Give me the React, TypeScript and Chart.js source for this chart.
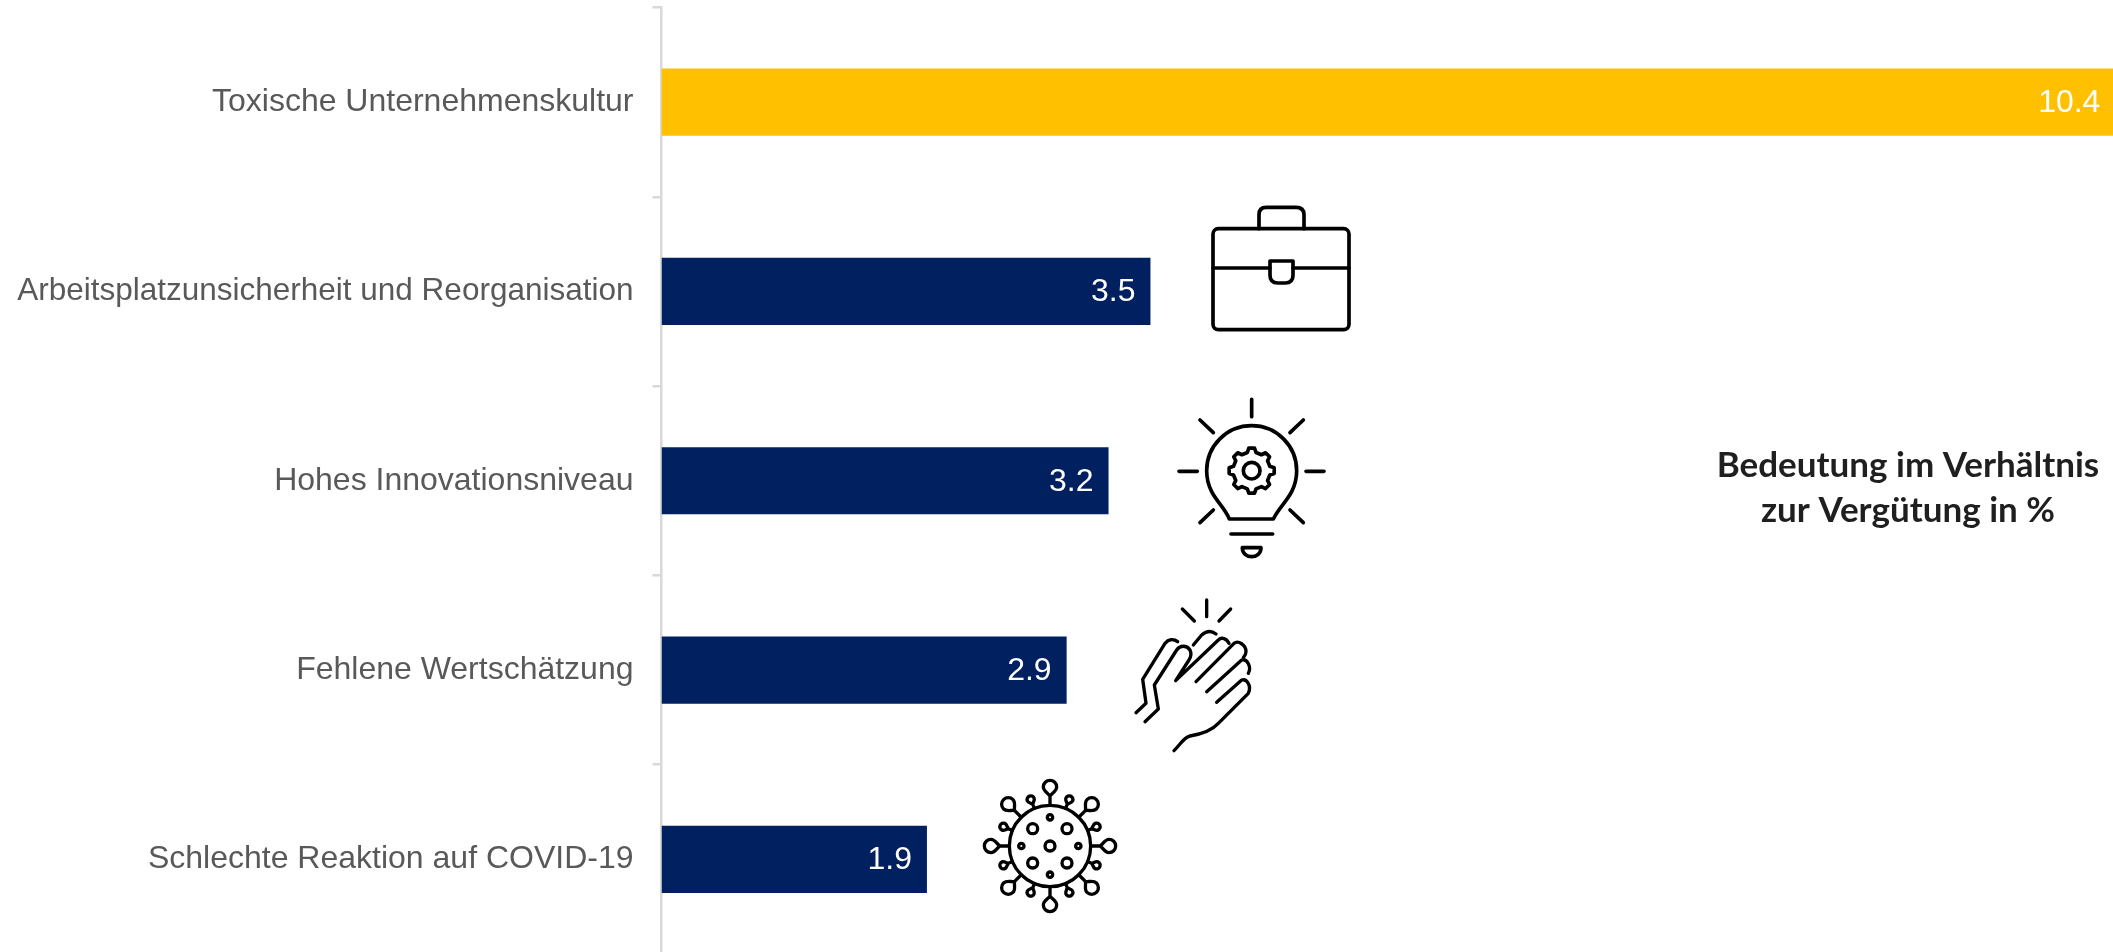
import React, { useEffect, useRef } from "react";
import { Chart, registerables } from "chart.js";

Chart.register(...registerables);

const categories = [
  "Toxische Unternehmenskultur",
  "Arbeitsplatzunsicherheit und Reorganisation",
  "Hohes Innovationsniveau",
  "Fehlene Wertschätzung",
  "Schlechte Reaktion auf COVID-19",
];
const values = [10.4, 3.5, 3.2, 2.9, 1.9];
const barColors = ["#FFC000", "#002060", "#002060", "#002060", "#002060"];
const noteLines = ["Bedeutung im Verhältnis", "zur Vergütung in %"];

const valueLabels = {
  id: "valueLabels",
  afterDatasetsDraw(chart: any) {
    const { ctx } = chart;
    const meta = chart.getDatasetMeta(0);
    ctx.save();
    ctx.font = '32px "Liberation Sans"';
    ctx.fillStyle = "#FFFFFF";
    ctx.textAlign = "right";
    ctx.textBaseline = "middle";
    meta.data.forEach((bar: any, i: number) => {
      const x = bar.x - (i === 0 ? 14 : 15);
      ctx.fillText(values[i].toFixed(1), x, bar.y + 1);
    });
    ctx.restore();
  },
};

const note = {
  id: "note",
  afterDraw(chart: any) {
    const { ctx } = chart;
    ctx.save();
    ctx.font = "bold 35px Lato";
    ctx.fillStyle = "#1F1F1F";
    ctx.textAlign = "center";
    ctx.textBaseline = "alphabetic";
    noteLines.forEach((t, i) => ctx.fillText(t, 1908, 477 + i * 45));
    ctx.restore();
  },
};

function Icon({ x, y, w, h, sw, children }: any) {
  return (
    <svg
      style={{ position: "absolute", left: x, top: y, width: w / 3, height: h / 3, pointerEvents: "none" }}
      viewBox={`0 0 ${w} ${h}`}
      fill="none"
      stroke="#000"
      strokeWidth={sw}
      strokeLinecap="round"
      strokeLinejoin="round"
    >
      {children}
    </svg>
  );
}

function gearPath(cx: number, cy: number, r1: number, r2: number, n: number) {
  const pts: string[] = [];
  for (let i = 0; i < n; i++) {
    const a = (i / n) * Math.PI * 2;
    const s = (Math.PI * 2) / n;
    const p = (r: number, t: number) =>
      `${(cx + r * Math.sin(a + t * s)).toFixed(1)} ${(cy - r * Math.cos(a + t * s)).toFixed(1)}`;
    pts.push(`${i === 0 ? "M" : "L"}${p(r2, -0.16)}`, `L${p(r2, 0.16)}`, `L${p(r1, 0.3)}`, `L${p(r1, 0.7)}`);
  }
  return pts.join(" ") + "Z";
}

const Briefcase = () => (
  <Icon x={1205} y={200} w={456} h={402} sw={11}>
    <rect x={24} y={86} width={408} height={303} rx={16} />
    <path d="M162 86V44Q162 22 184 22H273Q297 22 297 44V86" />
    <path d="M24 204H195M264 204H432" />
    <path d="M195 183H264V226Q264 249 241 249H218Q195 249 195 226Z" />
  </Icon>
);

const Bulb = () => (
  <Icon x={1100} y={380} w={840} h={570} sw={11}>
    <path d="M455 58V110M237 274H292M618 274H672M300 120L340 158M610 120L570 158M300 428L340 390M610 428L570 390" />
    <path d="M388 417L520 417C535 385 560 365 575 335C585 315 590 295 590 272A135 135 0 1 0 320 272C320 295 325 315 335 335C350 365 375 385 388 417Z" />
    <path d={gearPath(455, 272, 56, 68, 8)} />
    <circle cx={455} cy={272} r={25} />
    <path d="M393 462H518" />
    <path d="M427 503H483C483 520 470 530 455 530C440 530 427 520 427 503Z" />
  </Icon>
);

const Hand = () => (
  <Icon x={1110} y={590} w={510} h={510} sw={10}>
    <path d="M290 30V80M217 57L253 93M362 57L327 93" />
    <path d="M78 368L108 340L98 268L165 160C175 148 190 145 203 155" />
    <path d="M105 395L145 357L133 285L200 180C210 165 230 165 240 180C245 190 243 200 237 210L197 272L325 150C335 140 350 145 357 160" />
    <path d="M250 165L275 135C290 122 305 122 318 132" />
    <path d="M258 275L372 160C385 150 408 165 408 185C408 192 405 197 400 203" />
    <path d="M290 305L395 210C412 205 425 232 415 250" />
    <path d="M320 337L395 270C412 265 425 290 415 310L325 400C305 422 275 432 240 438C222 442 212 462 192 482" />
  </Icon>
);

const Virus = () => {
  const cx = 240;
  const cy = 228;
  const longs = [0, 45, 90, 135, 180, 225, 270, 315];
  const shorts = [22.5, 67.5, 112.5, 157.5, 202.5, 247.5, 292.5, 337.5];
  const rings: number[][] = [[240, 228], [188, 176], [291, 176], [188, 279], [291, 279]];
  const dots: number[][] = [[240, 142], [154, 228], [325, 228], [240, 314]];
  return (
    <Icon x={970} y={770} w={480} h={480} sw={10}>
      <circle cx={cx} cy={cy} r={122} />
      {longs.map((a) => (
        <g key={a} transform={`translate(${cx} ${cy}) rotate(${a})`}>
          <path d="M0 -122V-150M0 -150C-4 -158 -20 -164 -20 -177A20 20 0 1 1 20 -177C20 -164 4 -158 0 -150Z" />
        </g>
      ))}
      {shorts.map((a) => (
        <g key={a} transform={`translate(${cx} ${cy}) rotate(${a})`}>
          <path d="M0 -122V-135M0 -135C-2 -140 -11 -144 -11 -151A11 11 0 1 1 11 -151C11 -144 2 -140 0 -135Z" />
        </g>
      ))}
      {rings.map(([x, y]) => <circle key={`${x}-${y}`} cx={x} cy={y} r={15} />)}
      {dots.map(([x, y]) => <circle key={`${x}-${y}`} cx={x} cy={y} r={8} />)}
    </Icon>
  );
};

export default function App() {
  const ref = useRef<HTMLCanvasElement>(null);

  useEffect(() => {
    document.body.style.margin = "0";
    document.body.style.overflow = "hidden";
    const chart = new Chart(ref.current as HTMLCanvasElement, {
      type: "bar",
      data: {
        labels: categories,
        datasets: [
          {
            data: values,
            backgroundColor: barColors,
            categoryPercentage: 1,
            barPercentage: 0.355,
          },
        ],
      },
      options: {
        indexAxis: "y",
        responsive: false,
        animation: false,
        layout: { padding: { top: 7.5, bottom: 0, left: 0, right: 0 } },
        plugins: { legend: { display: false }, tooltip: { enabled: false } },
        scales: {
          x: { display: false, min: 0, max: 10.44 },
          y: {
            afterFit(scale: any) {
              scale.width = 661.5;
              scale.paddingTop = 0;
              scale.paddingBottom = 0;
            },
            border: { color: "#D9D9D9", width: 2.5 },
            grid: { drawOnChartArea: false, drawTicks: true, tickLength: 9, color: "#D9D9D9", lineWidth: 2.5 },
            ticks: {
              color: "#595959",
              font: (c: any) => ({ family: '"Liberation Sans"', size: c.index === 1 ? 31.5 : 32 }),
              padding: 19,
              autoSkip: false,
            },
          },
        },
      },
      plugins: [valueLabels, note],
    } as any);
    return () => chart.destroy();
  }, []);

  return (
    <div style={{ position: "relative", width: 2113, height: 952, overflow: "hidden", background: "#fff" }}>
      <canvas ref={ref} width={2120} height={954} style={{ display: "block" }} />
      <Briefcase />
      <Bulb />
      <Hand />
      <Virus />
    </div>
  );
}
